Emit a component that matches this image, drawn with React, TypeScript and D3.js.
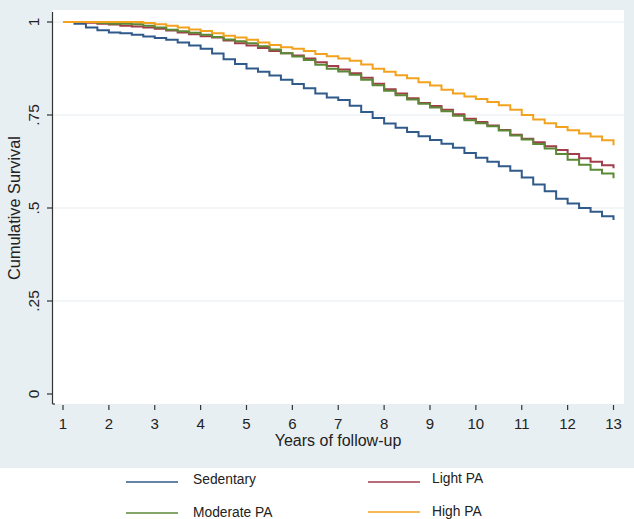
import React from "react";
import * as d3 from "d3";

const years = [1,1.25,1.5,1.75,2,2.25,2.5,2.75,3,3.25,3.5,3.75,4,4.25,4.5,4.75,5,5.25,5.5,5.75,6,6.25,6.5,6.75,7,7.25,7.5,7.75,8,8.25,8.5,8.75,9,9.25,9.5,9.75,10,10.25,10.5,10.75,11,11.25,11.5,11.75,12,12.25,12.5,12.75,13];

const sedentary = [1.0,0.995,0.985,0.978,0.972,0.970,0.966,0.961,0.957,0.952,0.945,0.937,0.928,0.915,0.900,0.887,0.875,0.866,0.856,0.845,0.833,0.822,0.808,0.797,0.790,0.775,0.758,0.742,0.727,0.716,0.704,0.693,0.683,0.673,0.662,0.648,0.635,0.624,0.612,0.600,0.582,0.563,0.545,0.525,0.512,0.500,0.490,0.478,0.468];
const lightPA = [1.0,1.0,0.998,0.995,0.993,0.990,0.988,0.985,0.982,0.977,0.972,0.967,0.962,0.958,0.950,0.943,0.937,0.930,0.922,0.916,0.910,0.902,0.892,0.882,0.872,0.862,0.850,0.834,0.819,0.808,0.795,0.782,0.774,0.764,0.752,0.740,0.731,0.722,0.710,0.697,0.686,0.677,0.666,0.656,0.645,0.634,0.624,0.615,0.607];
const moderatePA = [1.0,1.0,1.0,0.997,0.995,0.995,0.994,0.990,0.985,0.979,0.975,0.971,0.966,0.960,0.953,0.948,0.943,0.935,0.926,0.916,0.907,0.898,0.885,0.874,0.867,0.858,0.845,0.830,0.815,0.803,0.792,0.780,0.770,0.760,0.748,0.736,0.728,0.720,0.708,0.695,0.684,0.672,0.660,0.645,0.630,0.616,0.603,0.593,0.580];
const highPA = [1.0,1.0,1.0,1.0,1.0,1.0,1.0,0.997,0.994,0.990,0.985,0.980,0.976,0.970,0.963,0.958,0.952,0.945,0.938,0.932,0.928,0.922,0.914,0.908,0.902,0.896,0.886,0.874,0.866,0.857,0.849,0.838,0.829,0.818,0.808,0.800,0.793,0.785,0.776,0.764,0.750,0.738,0.728,0.718,0.709,0.700,0.692,0.682,0.669];

const seriesNames = ["Sedentary", "Light PA", "Moderate PA", "High PA"];
const seriesValues = [sedentary, lightPA, moderatePA, highPA];
const seriesColors = ["#2f5a8a", "#a33c4b", "#5b8936", "#f2a21e"];

const xTicks = [1,2,3,4,5,6,7,8,9,10,11,12,13];
const yTicks = [0, 0.25, 0.5, 0.75, 1];
const yTickLabels = ["0", ".25", ".5", ".75", "1"];
const gridTicks = [0.25, 0.5, 0.75, 1];

const W = 634, H = 519;
const FONT = "'Liberation Sans', Arial, sans-serif";

export default function App() {
  const x = d3.scaleLinear().domain([1, 13]).range([63, 613.5]);
  const y = d3.scaleLinear().domain([0, 1]).range([394, 22]);
  const line = d3.line<number>()
    .x((_, i) => x(years[i]))
    .y((d) => y(d))
    .curve(d3.curveStepAfter);

  const legendPos = [
    { lx: 126, ly: 482, tx: 193, ty: 483.5 },
    { lx: 368, ly: 482, tx: 432, ty: 482.5 },
    { lx: 126, ly: 513, tx: 193, ty: 516.5 },
    { lx: 368, ly: 512, tx: 432, ty: 515.5 },
  ];

  return (
    <svg width={W} height={H} style={{ position: "absolute", left: 0, top: 0 }} fontFamily={FONT}>
      <rect x={0} y={0} width={W} height={H} fill="#ffffff" />
      <rect x={0} y={0} width={W} height={468} fill="#e8eff3" />
      <rect x={53} y={10} width={571} height={394} fill="#ffffff" />
      {gridTicks.map((t) => (
        <line key={t} x1={53} x2={624} y1={y(t)} y2={y(t)} stroke="#e6eef1" strokeWidth={1.2} />
      ))}
      {/* y axis */}
      <line x1={52.5} x2={52.5} y1={12} y2={404} stroke="#333" strokeWidth={1.2} />
      <line x1={52.5} x2={55} y1={404} y2={404} stroke="#333" strokeWidth={1.2} />
      {yTicks.map((t, i) => (
        <g key={t}>
          <line x1={47} x2={52.5} y1={y(t)} y2={y(t)} stroke="#333" strokeWidth={1.2} />
          <text
            transform={`translate(39,${y(t)}) rotate(-90)`}
            textAnchor="middle"
            fontSize={15.5}
            fill="#222"
          >
            {yTickLabels[i]}
          </text>
        </g>
      ))}
      <text transform={`translate(19.5,208) rotate(-90)`} textAnchor="middle" fontSize={16.3} fill="#222">
        Cumulative Survival
      </text>
      {/* x axis */}
      {xTicks.map((t) => (
        <g key={t}>
          <line x1={x(t)} x2={x(t)} y1={405} y2={410} stroke="#333" strokeWidth={1.2} />
          <text x={x(t)} y={428.5} textAnchor="middle" fontSize={15} fill="#222">
            {t}
          </text>
        </g>
      ))}
      <text x={338} y={446} textAnchor="middle" fontSize={16} fill="#222">
        Years of follow-up
      </text>
      {/* curves */}
      {seriesValues.map((vals, i) => (
        <path key={seriesNames[i]} d={line(vals) || ""} fill="none" stroke={seriesColors[i]} strokeWidth={2} />
      ))}
      {/* legend */}
      {seriesNames.map((name, i) => {
        const p = legendPos[i];
        return (
          <g key={name}>
            <line x1={p.lx} x2={p.lx + 52} y1={p.ly} y2={p.ly} stroke={seriesColors[i]} strokeWidth={1.5} />
            <text x={p.tx} y={p.ty} fontSize={13.8} fill="#222">
              {name}
            </text>
          </g>
        );
      })}
    </svg>
  );
}
